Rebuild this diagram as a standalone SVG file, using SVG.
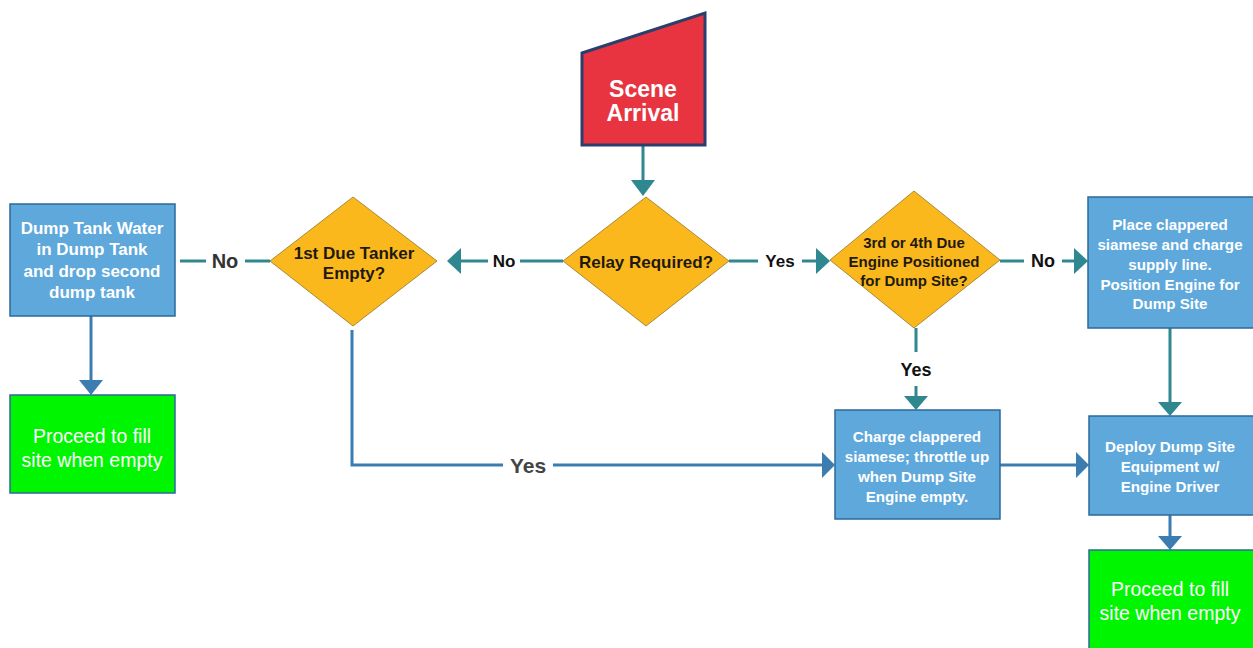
<svg xmlns="http://www.w3.org/2000/svg" width="1253" height="648" viewBox="0 0 1253 648">
<defs>
<style>
.box{fill:#5ea8dc;stroke:#2d6a9a;stroke-width:1.5}
.green{fill:#00f500;stroke:#2d6a9a;stroke-width:1.5}
.dia{fill:#fbb81c;stroke:#a98a3a;stroke-width:1}
.start{fill:#e83440;stroke:#2a3f6e;stroke-width:3}
.t{font-family:"Liberation Sans",Arial,sans-serif;text-anchor:middle;dominant-baseline:central}
.wb{fill:#fff;font-weight:bold;font-size:15.2px}
.wb2{fill:#fff;font-weight:bold;font-size:17px}
.wg{fill:#fff;font-size:19.5px}
.db{fill:#1e1a10;font-weight:bold;font-size:15px}
.lbl{font-weight:bold;font-size:17px;fill:#222}
.teal{stroke:#2f8790;stroke-width:3;fill:none}
.blue{stroke:#3b7db0;stroke-width:3;fill:none}
.ht{fill:#2f8790}
.hb{fill:#3b7db0}
</style>
</defs>
<rect width="1253" height="648" fill="#fff"/>
<g id="connectors">
<line class="teal" x1="643" y1="146" x2="643" y2="182"/>
<polygon class="ht" points="631,180 655,180 643,196"/>
<line class="teal" x1="563" y1="261" x2="520" y2="261"/>
<line class="teal" x1="488" y1="261" x2="460" y2="261"/>
<polygon class="ht" points="447,261 461,248 461,274"/>
<text class="t lbl" x="504" y="261" style="font-size:17px;fill:#111">No</text>
<line class="teal" x1="729" y1="261" x2="758" y2="261"/>
<line class="teal" x1="802" y1="261" x2="818" y2="261"/>
<polygon class="ht" points="830,261 816,248 816,274"/>
<text class="t lbl" x="780" y="261" style="font-size:17px;fill:#111">Yes</text>
<line class="teal" x1="1000" y1="261" x2="1024" y2="261"/>
<line class="teal" x1="1062" y1="261" x2="1076" y2="261"/>
<polygon class="ht" points="1088,261 1074,248 1074,274"/>
<text class="t lbl" x="1043" y="261" style="fill:#111;font-size:18px">No</text>
<line class="teal" x1="916" y1="328" x2="916" y2="352"/>
<text class="t lbl" x="916" y="370" style="fill:#111;font-size:18px">Yes</text>
<line class="teal" x1="916" y1="386" x2="916" y2="398"/>
<polygon class="ht" points="904,396 928,396 916,410"/>
<line class="teal" x1="1170" y1="328" x2="1170" y2="404"/>
<polygon class="ht" points="1158,402 1182,402 1170,416"/>
<line class="blue" x1="1000" y1="465" x2="1078" y2="465"/>
<polygon class="hb" points="1089,465 1076,452 1076,478"/>
<line class="blue" x1="1170" y1="515" x2="1170" y2="538"/>
<polygon class="hb" points="1158,536 1182,536 1170,550"/>
<line class="teal" x1="270" y1="261" x2="245" y2="261"/>
<line class="teal" x1="206" y1="261" x2="180" y2="261"/>
<text class="t lbl" x="225" y="261" style="fill:#333;font-size:20px">No</text>
<line class="blue" x1="91" y1="316" x2="91" y2="382"/>
<polygon class="hb" points="79,380 103,380 91,395"/>
<polyline class="blue" points="352,330 352,465 503,465"/>
<line class="blue" x1="553" y1="465" x2="823" y2="465"/>
<polygon class="hb" points="835,465 822,452 822,478"/>
<text class="t lbl" x="528" y="465" style="fill:#444;font-size:21px">Yes</text>
</g>
<g id="scene-arrival">
<polygon class="start" points="582,53 705,13 705,145 582,145"/>
<text class="t" x="643" y="89" fill="#fff" font-weight="bold" font-size="23">Scene</text>
<text class="t" x="643" y="113" fill="#fff" font-weight="bold" font-size="23">Arrival</text>
</g>
<g id="relay-required">
<polygon class="dia" points="646,197 729,261 646,326 563,261"/>
<text class="t db" x="646" y="262" style="font-size:17px">Relay Required?</text>
</g>
<g id="engine-positioned">
<polygon class="dia" points="914,191 1000,260 914,328 830,260"/>
<text class="t db" x="914" y="242">3rd or 4th Due</text>
<text class="t db" x="914" y="261">Engine Positioned</text>
<text class="t db" x="914" y="280">for Dump Site?</text>
</g>
<g id="place-clappered">
<rect class="box" x="1088" y="197" width="166" height="131"/>
<text class="t wb" x="1170" y="224">Place clappered</text>
<text class="t wb" x="1170" y="244">siamese and charge</text>
<text class="t wb" x="1170" y="264">supply line.</text>
<text class="t wb" x="1170" y="284">Position Engine for</text>
<text class="t wb" x="1170" y="303">Dump Site</text>
</g>
<g id="charge-clappered">
<rect class="box" x="835" y="410" width="165" height="109"/>
<text class="t wb" x="917" y="436">Charge clappered</text>
<text class="t wb" x="917" y="456">siamese; throttle up</text>
<text class="t wb" x="917" y="476">when Dump Site</text>
<text class="t wb" x="917" y="496">Engine empty.</text>
</g>
<g id="deploy-dump-site">
<rect class="box" x="1089" y="416" width="165" height="99"/>
<text class="t wb" x="1170" y="446">Deploy Dump Site</text>
<text class="t wb" x="1170" y="466">Equipment w/</text>
<text class="t wb" x="1170" y="486">Engine Driver</text>
</g>
<g id="proceed-right">
<rect class="green" x="1089" y="550" width="165" height="100"/>
<text class="t wg" x="1170" y="589">Proceed to fill</text>
<text class="t wg" x="1170" y="613">site when empty</text>
</g>
<g id="first-due-tanker">
<polygon class="dia" points="353,197 437,261 353,326 270,261"/>
<text class="t db" x="354" y="253" style="font-size:17px">1st Due Tanker</text>
<text class="t db" x="354" y="273" style="font-size:17px">Empty?</text>
</g>
<g id="dump-tank-water">
<rect class="box" x="10" y="204" width="165" height="112"/>
<text class="t wb2" x="92" y="228">Dump Tank Water</text>
<text class="t wb2" x="92" y="249">in Dump Tank</text>
<text class="t wb2" x="92" y="271">and drop second</text>
<text class="t wb2" x="92" y="292">dump tank</text>
</g>
<g id="proceed-left">
<rect class="green" x="10" y="395" width="165" height="98"/>
<text class="t wg" x="92" y="436">Proceed to fill</text>
<text class="t wg" x="92" y="460">site when empty</text>
</g>
</svg>
